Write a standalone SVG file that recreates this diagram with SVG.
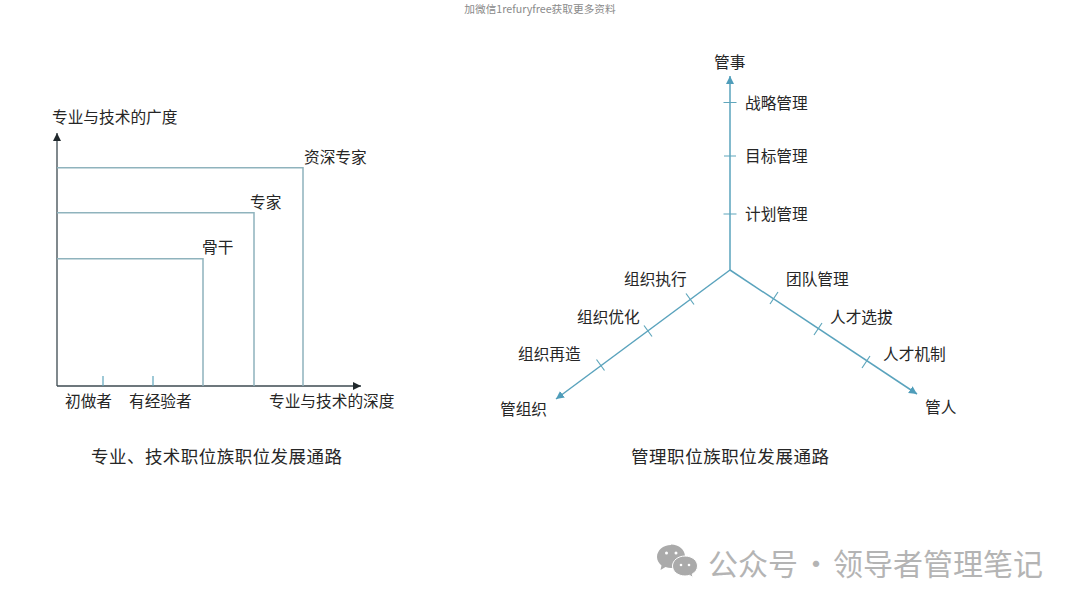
<svg xmlns="http://www.w3.org/2000/svg" width="1080" height="607" viewBox="0 0 1080 607">
<style>
text{font-family:"Noto Sans CJK SC","Liberation Sans",sans-serif;font-size:15.7px;fill:#262626}
.cap{font-size:17.5px}
.ax{stroke:#3d4a50;stroke-width:1.3;fill:none}
.lv{stroke:#8fb3bd;stroke-width:1.5;fill:none}
.bl{stroke:#5aa3bd;stroke-width:1.5;fill:none}
.tk{stroke:#5fa6bc;stroke-width:1.2;fill:none}
.wm{font-size:30px;fill:#b4b4b4}
</style>
<defs>
<marker id="ab" markerUnits="userSpaceOnUse" markerWidth="10" markerHeight="10" refX="8" refY="4" orient="auto"><path d="M0 0L8 4L0 8Z" fill="#20282c"/></marker>
<marker id="ac" markerUnits="userSpaceOnUse" markerWidth="10" markerHeight="10" refX="8" refY="4" orient="auto"><path d="M0 0L8 4L0 8Z" fill="#4f9dba"/></marker>
</defs>
<rect width="1080" height="607" fill="#fff"/>
<text x="540" y="13" text-anchor="middle" style="font-size:10.7px;fill:#8a8a8a">加微信1refuryfree获取更多资料</text>
<g id="connectors">
<path class="ax" d="M57 386V133" marker-end="url(#ab)"/>
<path class="ax" d="M57 386H361" marker-end="url(#ab)"/>
<path class="lv" d="M57 167.700H303V386"/>
<path class="lv" d="M57 212.700H254V386"/>
<path class="lv" d="M57 258.700H203V386"/>
<path class="tk" d="M103 376V386M153 376V386"/>
<path class="bl" d="M730 270V76" marker-end="url(#ac)"/>
<path class="bl" d="M730 270L556 399" marker-end="url(#ac)"/>
<path class="bl" d="M730 270L917 394" marker-end="url(#ac)"/>
<path class="tk" d="M723.500 102.500H736.500M724 156H736M723.500 214H736.500"/>
<path class="tk" d="M686 293.500L694 304.500M644 325.500L652 336.500M596.500 359.500L604.500 370.500"/>
<path class="tk" d="M778 292L770 304M822 323L814 335M870 356L862 368"/>
</g>
<g id="left-axis-y"><text x="52" y="123">专业与技术的广度</text></g>
<g id="left-senior"><text x="304" y="163">资深专家</text></g>
<g id="left-expert"><text x="250" y="208">专家</text></g>
<g id="left-core"><text x="202" y="253">骨干</text></g>
<g id="left-beginner"><text x="65" y="407">初做者</text></g>
<g id="left-experienced"><text x="129" y="407">有经验者</text></g>
<g id="left-axis-x"><text x="269" y="407">专业与技术的深度</text></g>
<g id="left-caption"><text class="cap" x="91" y="463" textLength="251">专业、技术职位族职位发展通路</text></g>
<g id="r-shi"><text x="714" y="68">管事</text></g>
<g id="r-zl"><text x="745" y="109">战略管理</text></g>
<g id="r-mb"><text x="745" y="162">目标管理</text></g>
<g id="r-jh"><text x="745" y="219.500">计划管理</text></g>
<g id="r-zx"><text x="624" y="285">组织执行</text></g>
<g id="r-yh"><text x="577" y="323">组织优化</text></g>
<g id="r-zz"><text x="518" y="360">组织再造</text></g>
<g id="r-zuzhi"><text x="500" y="415">管组织</text></g>
<g id="r-td"><text x="786" y="285">团队管理</text></g>
<g id="r-xb"><text x="830" y="323">人才选拔</text></g>
<g id="r-jz"><text x="883" y="360">人才机制</text></g>
<g id="r-ren"><text x="925" y="413">管人</text></g>
<g id="right-caption"><text class="cap" x="631" y="463" textLength="198">管理职位族职位发展通路</text></g>
<g id="watermark">
<path d="M671 545c-8 0-14 5.500-14 12 0 3.500 2 6.500 4.500 8.500l-1 4.500 5-3c2 .6 3.500 .9 5.500 .9 8 0 14-5 14-11.500s-6-11.900-14-11.900z" fill="#aaa"/>
<path d="M685 556c-7 0-12.500 4.500-12.500 10s5.500 10 12.500 10c1.500 0 3-.2 4.500-.7l3.500 2.200-.8-3.500c3.300-1.800 5.300-4.700 5.300-8 0-5.500-5.500-10-12.500-10z" fill="#aaa" stroke="#fff" stroke-width="1"/>
<circle cx="666.500" cy="553" r="1.500" fill="#fff"/><circle cx="676" cy="553" r="1.500" fill="#fff"/>
<circle cx="681" cy="565" r="1.300" fill="#fff"/><circle cx="689" cy="565" r="1.300" fill="#fff"/>
<text class="wm" x="708" y="575">公众号</text>
<text class="wm" x="801" y="575">·</text>
<text class="wm" x="833" y="575">领导者管理笔记</text>
</g>
</svg>
